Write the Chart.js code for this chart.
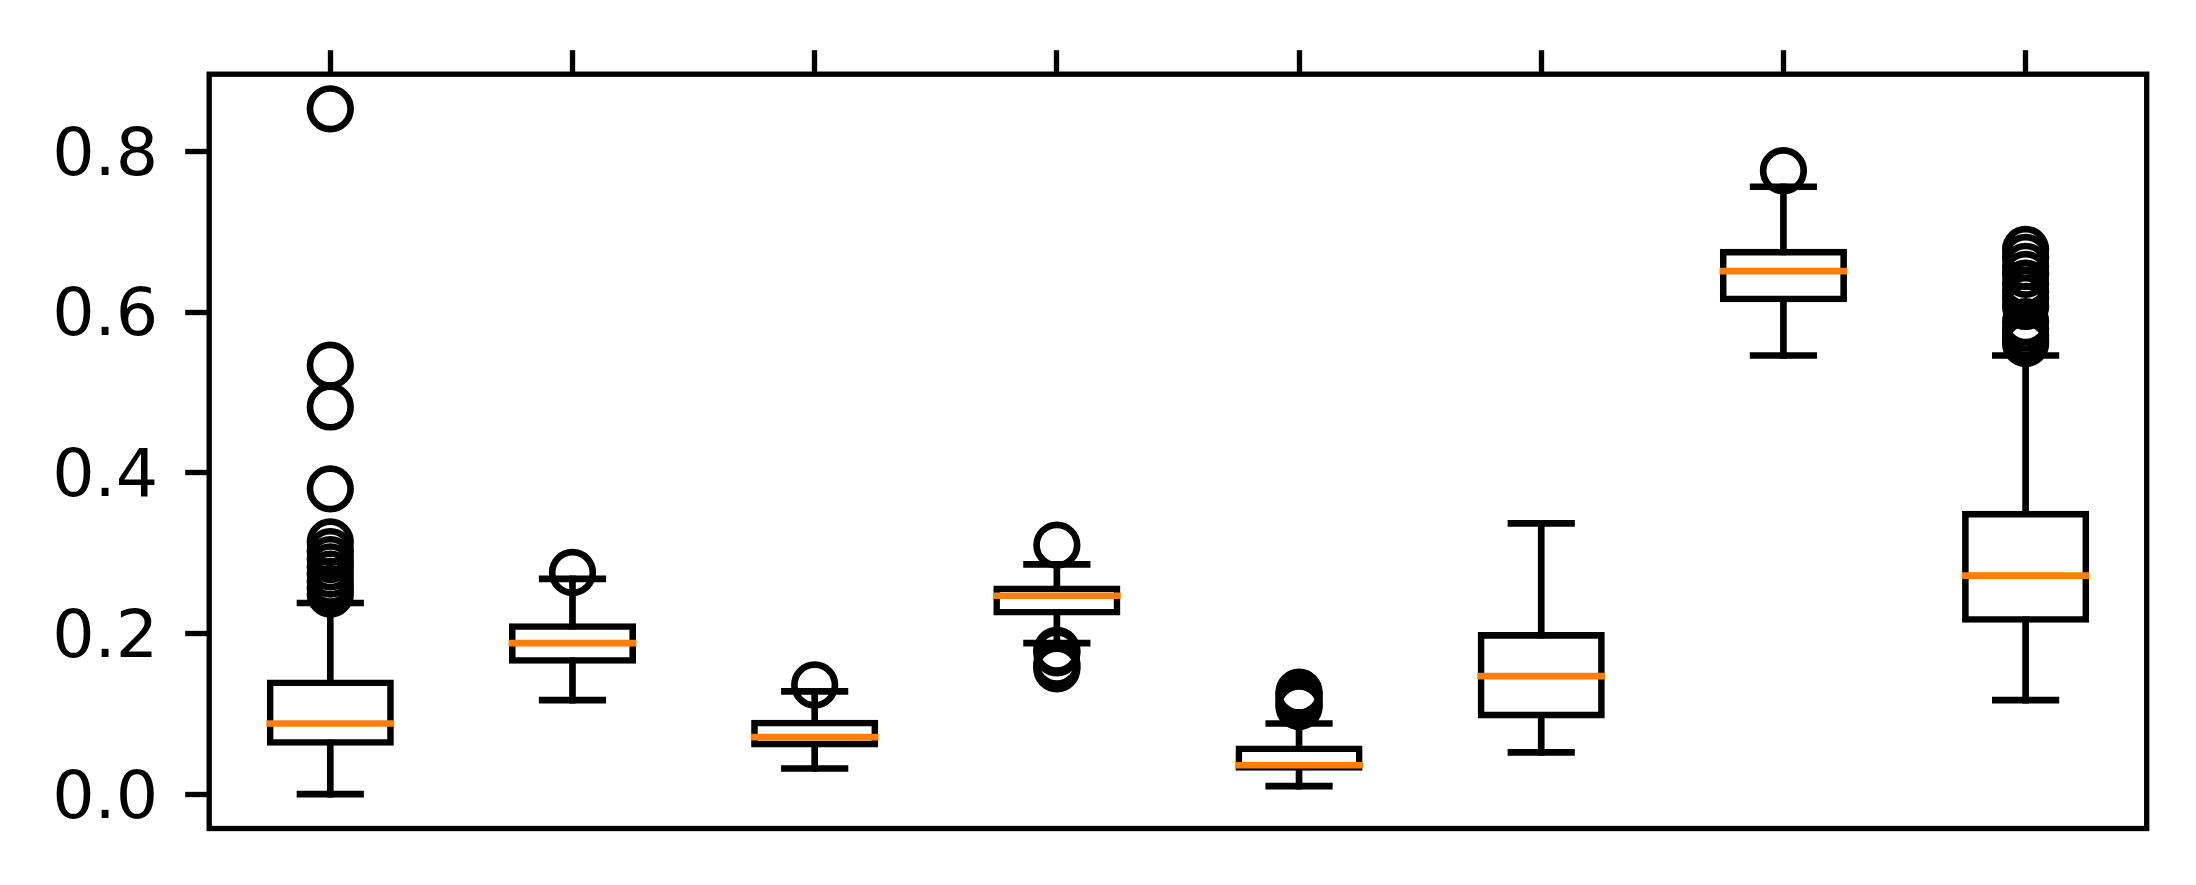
<!DOCTYPE html>
<html>
<head>
<meta charset="utf-8">
<script src="https://cdn.jsdelivr.net/npm/chart.js@4"></script>
<style>
html, body { margin: 0; padding: 0; background: #ffffff; }
#wrap { width: 2196px; height: 885px; position: relative; }
</style>
</head>
<body>
<div id="wrap"><canvas id="c"></canvas></div>
<script>
// ---- data ----
const categories = ['1', '2', '3', '4', '5', '6', '7', '8'];
const whiskerLow  = [0.000, 0.117, 0.032, 0.188, 0.010, 0.052, 0.546, 0.117];
const q1          = [0.064, 0.166, 0.062, 0.226, 0.033, 0.098, 0.616, 0.217];
const medians     = [0.088, 0.188, 0.071, 0.247, 0.036, 0.147, 0.651, 0.272];
const q3          = [0.139, 0.209, 0.089, 0.256, 0.057, 0.198, 0.675, 0.349];
const whiskerHigh = [0.238, 0.268, 0.128, 0.286, 0.088, 0.337, 0.756, 0.546];
const fliers1 = [0.853, 0.534, 0.482, 0.380, 0.314, 0.302, 0.292, 0.283, 0.274, 0.265, 0.256, 0.249];
const fliers2 = [0.276];
const fliers3 = [0.136];
const fliers4 = [0.310, 0.179, 0.176, 0.163, 0.159, 0.156];
const fliers5 = [0.127, 0.124, 0.121, 0.116, 0.112, 0.109];
const fliers6 = [];
const fliers7 = [0.776];
const fliers8 = [0.678, 0.668, 0.657, 0.647, 0.636, 0.626, 0.617, 0.607, 0.588, 0.580, 0.572, 0.566, 0.561];
const yTicks = [0.0, 0.2, 0.4, 0.6, 0.8];
const yMin = -0.0427;
const yMax = 0.8961;

const allFliers = [fliers1, fliers2, fliers3, fliers4, fliers5, fliers6, fliers7, fliers8];
const flierPoints = [];
allFliers.forEach((arr, i) => arr.forEach(v => flierPoints.push({ x: categories[i], y: v })));

const BOX_W = 0.5;     // box width in category units
const CAP_W = 0.25;    // cap width in category units
const LW = 6.67;       // line width for whiskers/caps/medians

const boxParts = {
  id: 'boxParts',
  beforeDatasetsDraw(chart) {
    const xs = chart.scales.x, ys = chart.scales.y;
    const unit = xs.getPixelForValue(1) - xs.getPixelForValue(0);
    const ctx = chart.ctx;
    ctx.save();
    ctx.strokeStyle = '#000000';
    ctx.lineWidth = LW;
    ctx.lineCap = 'square';
    categories.forEach((c, i) => {
      const cx = xs.getPixelForValue(i);
      const half = unit * CAP_W / 2;
      ctx.beginPath();
      ctx.moveTo(cx, ys.getPixelForValue(q1[i]));
      ctx.lineTo(cx, ys.getPixelForValue(whiskerLow[i]));
      ctx.moveTo(cx, ys.getPixelForValue(q3[i]));
      ctx.lineTo(cx, ys.getPixelForValue(whiskerHigh[i]));
      ctx.stroke();
      ctx.beginPath();
      const yl = ys.getPixelForValue(whiskerLow[i]);
      const yh = ys.getPixelForValue(whiskerHigh[i]);
      ctx.moveTo(cx - half, yl); ctx.lineTo(cx + half, yl);
      ctx.moveTo(cx - half, yh); ctx.lineTo(cx + half, yh);
      ctx.stroke();
    });
    ctx.restore();
  },
  afterDatasetDraw(chart, args) {
    if (args.index !== 0) return;
    const xs = chart.scales.x, ys = chart.scales.y;
    const unit = xs.getPixelForValue(1) - xs.getPixelForValue(0);
    const ctx = chart.ctx;
    ctx.save();
    ctx.strokeStyle = '#ff7f0e';
    ctx.lineWidth = LW;
    ctx.lineCap = 'square';
    categories.forEach((c, i) => {
      const cx = xs.getPixelForValue(i);
      const half = unit * BOX_W / 2;
      const y = ys.getPixelForValue(medians[i]);
      ctx.beginPath();
      ctx.moveTo(cx - half, y); ctx.lineTo(cx + half, y);
      ctx.stroke();
    });
    ctx.restore();
  },
  afterDraw(chart) {
    const a = chart.chartArea;
    const ctx = chart.ctx;
    ctx.save();
    ctx.strokeStyle = '#000000';
    ctx.lineWidth = 5.33;
    ctx.lineJoin = 'miter';
    ctx.strokeRect(a.left, a.top, a.right - a.left, a.bottom - a.top);
    ctx.restore();
  }
};

new Chart(document.getElementById('c'), {
  type: 'bar',
  data: {
    labels: categories,
    datasets: [
      {
        type: 'bar',
        data: categories.map((c, i) => [q1[i], q3[i]]),
        backgroundColor: 'rgba(255,255,255,0)',
        borderColor: '#000000',
        borderWidth: 0.6,
        inflateAmount: 3.0,
        borderSkipped: false,
        barPercentage: BOX_W,
        categoryPercentage: 1.0,
        order: 2
      },
      {
        type: 'scatter',
        data: flierPoints,
        pointStyle: 'circle',
        pointRadius: 20.3,
        pointHoverRadius: 20.3,
        pointBorderWidth: 6.67,
        borderColor: '#000000',
        backgroundColor: 'rgba(0,0,0,0)',
        showLine: false,
        order: 1
      }
    ]
  },
  options: {
    responsive: true,
    maintainAspectRatio: false,
    animation: false,
    events: [],
    layout: { padding: { left: 0, top: 0, right: 49.3, bottom: 56.5 } },
    plugins: { legend: { display: false }, tooltip: { enabled: false } },
    scales: {
      x: {
        type: 'category',
        position: 'top',
        offset: true,
        grid: {
          offset: false,
          drawOnChartArea: false,
          drawTicks: true,
          tickLength: 24,
          tickWidth: 5.33,
          tickColor: '#000000'
        },
        border: { display: false },
        ticks: { display: false },
        afterFit: s => { s.height = 74.2; s.paddingLeft = 0; s.paddingRight = 0; }
      },
      y: {
        type: 'linear',
        min: yMin,
        max: yMax,
        afterBuildTicks: s => { s.ticks = yTicks.map(v => ({ value: v })); },
        grid: {
          drawOnChartArea: false,
          drawTicks: true,
          tickLength: 24,
          tickWidth: 5.33,
          tickColor: '#000000'
        },
        border: { display: false },
        ticks: {
          callback: v => Number(v).toFixed(1),
          color: '#000000',
          padding: 27,
          labelOffset: 6,
          font: { family: 'DejaVu Sans', size: 66.7 }
        },
        afterFit: s => { s.width = 209.2; s.paddingTop = 0; s.paddingBottom = 0; }
      }
    }
  },
  plugins: [boxParts]
});
</script>
</body>
</html>
